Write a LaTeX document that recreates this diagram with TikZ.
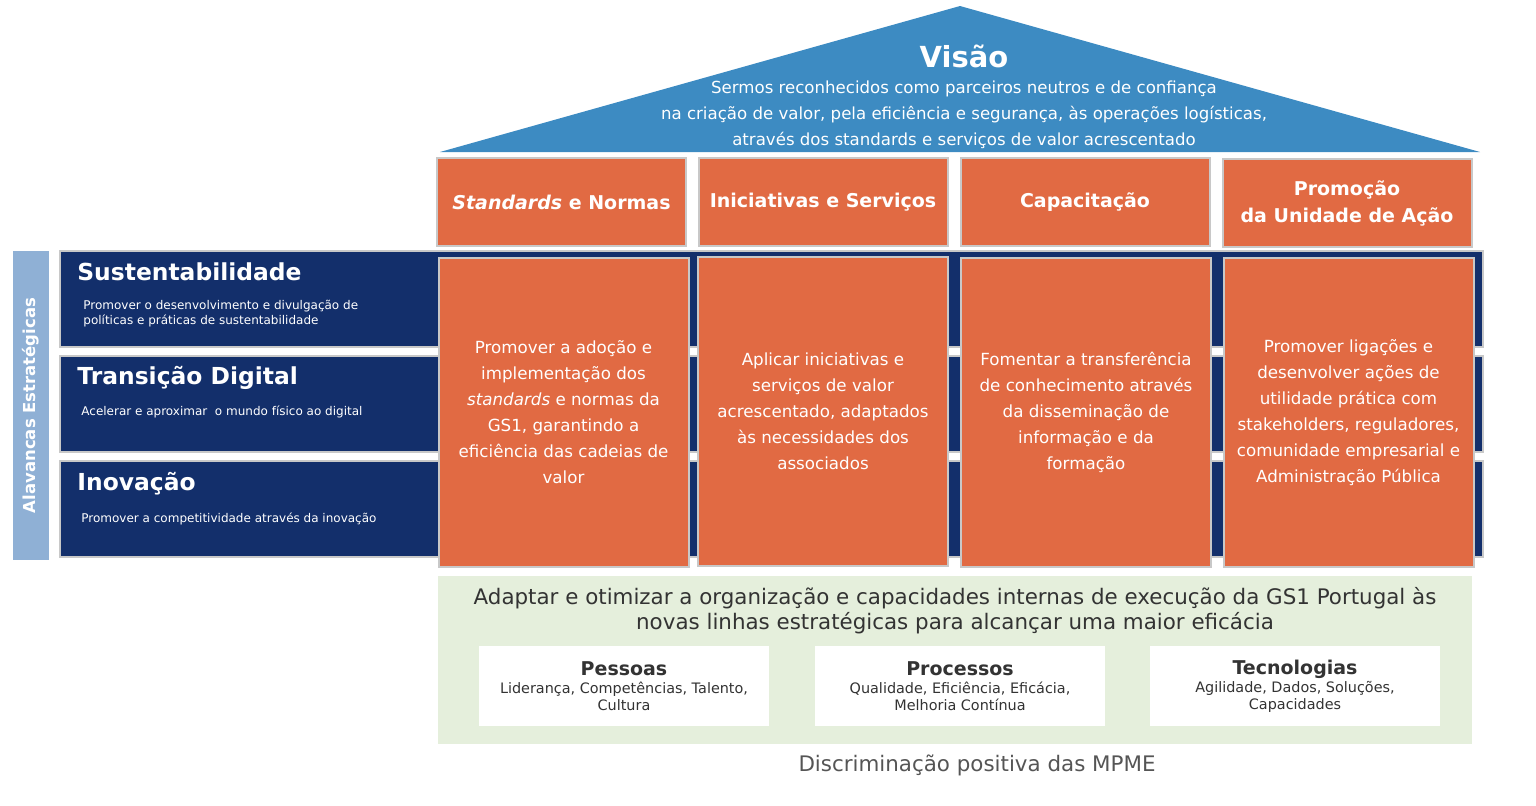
\documentclass[tikz,border=0pt]{standalone}
\usepackage{fontspec}
\setmainfont{DejaVu Sans}
\usepackage{tikz}
\usepackage{xcolor}
\usetikzlibrary{positioning}
\definecolor{roofblue}{HTML}{3D8BC2}
\definecolor{pillar}{HTML}{E16A43}
\definecolor{navy}{HTML}{132F6B}
\definecolor{barblue}{HTML}{8FB0D5}
\definecolor{edgegray}{HTML}{C8C8C8}
\definecolor{mintbg}{HTML}{E5EFDC}
\definecolor{txtgray}{HTML}{333333}
\definecolor{footgray}{HTML}{555555}
\tikzset{
  headbox/.style={draw=edgegray,fill=pillar,line width=1pt,
                  minimum width=124.5pt,minimum height=44pt,inner sep=2pt,
                  align=center,text=white,font=\fontsize{9.5}{13.5}\selectfont\bfseries},
  pillarbox/.style={draw=edgegray,fill=pillar,line width=1pt,
                    minimum width=125pt,minimum height=154.5pt,inner sep=2pt,
                    align=center,text=white,font=\fontsize{8.35}{13}\selectfont},
  leverrow/.style={draw=edgegray,fill=navy,line width=1pt,
                   minimum width=711.5pt,minimum height=48pt,inner sep=0pt},
  levertitle/.style={anchor=west,inner sep=0pt,text=white,
                     font=\fontsize{11.7}{14}\selectfont\bfseries},
  leversub/.style={anchor=north west,inner sep=0pt,text=white,align=left,
                   font=\fontsize{6}{7.5}\selectfont},
  whitebox/.style={fill=white,minimum width=145pt,minimum height=40pt,
                   inner sep=2pt,align=center,text=txtgray,
                   font=\fontsize{7.2}{8.5}\selectfont}
}
\newcommand{\boxhead}[1]{{\fontsize{9.5}{11}\selectfont\bfseries #1}\\[0.5pt]}

\begin{document}
\begin{tikzpicture}[x=0.5pt,y=-0.5pt]
  \useasboundingbox (0,0) rectangle (1536,805);

  % roof
  \fill[roofblue] (440,152) -- (960,6) -- (1480,152) -- cycle;
  \node[text=white,font=\fontsize{14.5}{18}\selectfont\bfseries] (visao) at (964,56) {Visão};
  \node[text=white,align=center,font=\fontsize{8.3}{13}\selectfont,below=-0.5pt of visao] (visaotxt)
    {Sermos reconhecidos como parceiros neutros e de confiança\\
     na criação de valor, pela eficiência e segurança, às operações logísticas,\\
     através dos standards e serviços de valor acrescentado};

  % pillar headers
  \node[headbox] (h1) at (561.5,202) {\textit{Standards} e Normas};
  \node[headbox] (h2) at (823,202) {Iniciativas e Serviços};
  \node[headbox] (h3) at (1085,202) {Capacitação};
  \node[headbox] (h4) at (1347,203) {Promoção\\da Unidade de Ação};

  % levers
  \node[fill=barblue,minimum width=154.5pt,minimum height=18pt,inner sep=0pt,rotate=90,
        text=white,font=\fontsize{8.25}{9}\selectfont\bfseries] (alav) at (31,405.5) {Alavancas Estratégicas};
  \node[leverrow] (sust) at (771.5,299) {};
  \node[leverrow] (trans) at (771.5,404) {};
  \node[leverrow] (inov) at (771.5,509) {};
  \node[levertitle] (sustT) at (77,272) {Sustentabilidade};
  \node[leversub] (sustS) at (83,300) {Promover o desenvolvimento e divulgação de\\políticas e práticas de sustentabilidade};
  \node[levertitle] (transT) at (77,378) {Transição Digital};
  \node[leversub] (transS) at (81,405) {Acelerar e aproximar \ o mundo físico ao digital};
  \node[levertitle] (inovT) at (77,484) {Inovação};
  \node[leversub] (inovS) at (81,512) {Promover a competitividade através da inovação};

  % pillars
  \node[pillarbox] (p1) at (563.5,412.5) {Promover a adoção e\\implementação dos\\\textit{standards} e normas da\\GS1, garantindo a\\eficiência das cadeias de\\valor};
  \node[pillarbox] (p2) at (823,411) {Aplicar iniciativas e\\serviços de valor\\acrescentado, adaptados\\às necessidades dos\\associados};
  \node[pillarbox] (p3) at (1086,412.5) {Fomentar a transferência\\de conhecimento através\\da disseminação de\\informação e da\\formação};
  \node[pillarbox] (p4) at (1348.5,412.5) {Promover ligações e\\desenvolver ações de\\utilidade prática com\\stakeholders, reguladores,\\comunidade empresarial e\\Administração Pública};

  % foundation
  \node[fill=mintbg,minimum width=517pt,minimum height=84pt,inner sep=0pt] (base) at (955,660) {};
  \node[text=txtgray,align=center,font=\fontsize{10.7}{12.5}\selectfont] (baseT) at (955,611)
    {Adaptar e otimizar a organização e capacidades internas de execução da GS1 Portugal às\\
     novas linhas estratégicas para alcançar uma maior eficácia};
  \node[whitebox] (pess) at (624,686) {\boxhead{Pessoas}Liderança, Competências, Talento,\\Cultura};
  \node[whitebox] (proc) at (960,686) {\boxhead{Processos}Qualidade, Eficiência, Eficácia,\\Melhoria Contínua};
  \node[whitebox] (tecn) at (1295,686) {\boxhead{Tecnologias}Agilidade, Dados, Soluções,\\Capacidades};

  \node[text=footgray,font=\fontsize{10.7}{12}\selectfont] (mpme) at (977,765) {Discriminação positiva das MPME};
\end{tikzpicture}
\end{document}
